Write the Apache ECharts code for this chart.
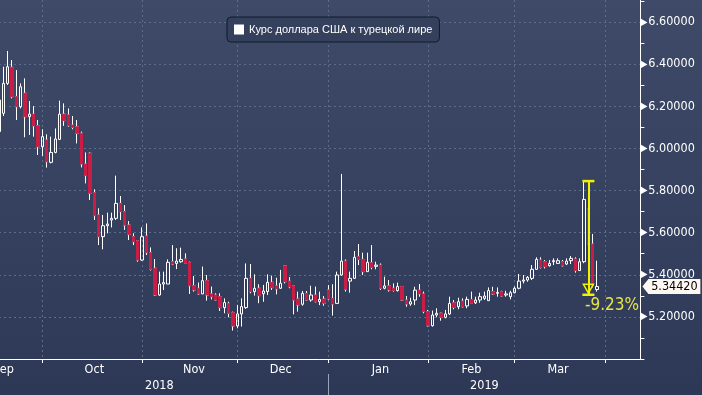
<!DOCTYPE html>
<html><head><meta charset="utf-8">
<script src="https://cdn.jsdelivr.net/npm/echarts@6/dist/echarts.min.js"></script>
<style>
html,body{margin:0;padding:0;background:#2c3855;}
#c{width:702px;height:395px;background:linear-gradient(to bottom,#3e4a67 0%,#2f3b58 88%,#2c3855 100%);}
</style>
</head><body><div id="c"></div>
<script>
const seriesName = 'Курс доллара США к турецкой лире';
const firstDate = '2018-09-14';
const lastDate = '2019-04-10';

const openVals = [
6.080,6.167,6.309,6.385,6.246,6.198,6.262,6.151,6.163,6.108,
6.008,6.040,5.934,5.981,6.043,6.163,6.159,6.111,6.103,6.072,
5.926,5.977,5.790,5.684,5.581,5.633,5.660,5.668,5.739,5.700,
5.636,5.581,5.562,5.470,5.584,5.505,5.431,5.304,5.356,5.356,
5.462,5.454,5.462,5.475,5.459,5.348,5.336,5.309,5.372,5.309,
5.304,5.296,5.244,5.264,5.220,5.157,5.214,5.244,5.383,5.320,
5.336,5.310,5.320,5.364,5.347,5.336,5.442,5.370,5.348,5.285,
5.260,5.312,5.280,5.304,5.272,5.285,5.328,5.288,5.264,5.399,
5.465,5.370,5.383,5.486,5.473,5.415,5.457,5.440,5.446,5.336,
5.347,5.336,5.325,5.344,5.280,5.261,5.280,5.327,5.309,5.225,
5.158,5.209,5.217,5.198,5.214,5.267,5.248,5.275,5.252,5.283,
5.267,5.280,5.288,5.277,5.320,5.312,5.320,5.304,5.296,5.315,
5.336,5.370,5.375,5.383,5.426,5.470,5.462,5.443,5.462,5.454,
5.462,5.451,5.467,5.475,5.420,5.462,5.715,5.546,5.330];
const closeVals = [
6.230,6.309,6.388,6.246,6.198,6.293,6.151,6.163,6.107,6.008,
6.056,5.937,5.981,6.045,6.163,6.132,6.108,6.100,6.072,5.926,
5.871,5.787,5.681,5.581,5.633,5.641,5.668,5.739,5.700,5.636,
5.592,5.557,5.470,5.581,5.505,5.426,5.304,5.356,5.363,5.459,
5.451,5.465,5.473,5.454,5.348,5.328,5.309,5.372,5.304,5.296,
5.280,5.244,5.268,5.217,5.157,5.214,5.249,5.383,5.320,5.336,
5.301,5.323,5.364,5.339,5.333,5.360,5.367,5.343,5.280,5.257,
5.312,5.280,5.304,5.272,5.283,5.265,5.285,5.261,5.399,5.465,
5.331,5.383,5.483,5.473,5.415,5.459,5.435,5.446,5.336,5.347,
5.328,5.325,5.344,5.280,5.261,5.272,5.327,5.309,5.225,5.158,
5.209,5.217,5.198,5.214,5.264,5.245,5.272,5.248,5.283,5.264,
5.280,5.296,5.299,5.325,5.309,5.316,5.299,5.309,5.315,5.336,
5.370,5.375,5.388,5.426,5.473,5.435,5.439,5.454,5.467,5.467,
5.443,5.465,5.478,5.420,5.462,5.758,5.546,5.351,5.3442];
const lowVals = [
6.050,6.154,6.301,6.238,6.135,6.190,6.053,6.064,6.056,5.969,
5.964,5.909,5.929,5.977,6.040,6.107,6.103,6.091,6.024,5.910,
5.834,5.755,5.660,5.541,5.521,5.597,5.625,5.660,5.660,5.613,
5.565,5.541,5.462,5.467,5.494,5.420,5.300,5.300,5.328,5.356,
5.446,5.427,5.457,5.451,5.309,5.320,5.304,5.309,5.277,5.283,
5.277,5.228,5.217,5.198,5.135,5.146,5.154,5.238,5.312,5.301,
5.265,5.272,5.304,5.328,5.307,5.333,5.359,5.336,5.212,5.225,
5.253,5.276,5.272,5.269,5.256,5.253,5.280,5.206,5.264,5.396,
5.320,5.315,5.380,5.446,5.399,5.415,5.426,5.426,5.328,5.331,
5.320,5.320,5.320,5.277,5.248,5.253,5.256,5.296,5.217,5.154,
5.154,5.198,5.182,5.193,5.209,5.236,5.236,5.245,5.241,5.261,
5.261,5.267,5.280,5.277,5.304,5.296,5.296,5.296,5.283,5.312,
5.331,5.359,5.367,5.375,5.423,5.430,5.430,5.439,5.446,5.451,
5.439,5.446,5.451,5.410,5.418,5.455,5.540,5.340,5.320];
const highVals = [
6.250,6.388,6.463,6.420,6.372,6.309,6.333,6.225,6.201,6.135,
6.091,6.067,6.056,6.095,6.227,6.214,6.190,6.154,6.135,6.080,
5.981,5.981,5.806,5.716,5.684,5.695,5.695,5.871,5.774,5.731,
5.655,5.597,5.565,5.625,5.644,5.530,5.475,5.415,5.415,5.473,
5.541,5.526,5.529,5.502,5.462,5.394,5.363,5.439,5.399,5.344,
5.312,5.312,5.288,5.272,5.225,5.257,5.288,5.454,5.451,5.402,
5.355,5.352,5.402,5.396,5.386,5.423,5.442,5.389,5.351,5.320,
5.323,5.323,5.348,5.344,5.320,5.299,5.351,5.355,5.415,5.879,
5.473,5.415,5.513,5.546,5.505,5.505,5.541,5.462,5.454,5.391,
5.375,5.359,5.363,5.347,5.299,5.291,5.343,5.356,5.320,5.233,
5.230,5.241,5.220,5.233,5.296,5.280,5.291,5.288,5.296,5.320,
5.296,5.315,5.320,5.340,5.343,5.340,5.324,5.324,5.324,5.344,
5.404,5.399,5.394,5.446,5.483,5.483,5.470,5.470,5.478,5.478,
5.470,5.478,5.489,5.483,5.478,5.842,5.780,5.594,5.467];

// axis labels
const monthEndDates = ['2018-09-28','2018-10-31','2018-11-30','2018-12-31','2019-01-31','2019-02-28','2019-03-29'];
const monthLabelDates = ['2018-09-17','2018-10-16','2018-11-16','2018-12-14','2019-01-16','2019-02-14','2019-03-14'];
const monthLabels = ['Sep','Oct','Nov','Dec','Jan','Feb','Mar'];
const yearLabelDates = ['2018-11-06','2019-02-19'];
const yearLabels = ['2018','2019'];
const yearDividerDates = ['2018-12-31'];
const yTickLabels = [5.2,5.4,5.6,5.8,6.0,6.2,6.4,6.6];

// measurement annotation
const measureDate = '2019-03-25';
const measureTop = 5.845;
const measureBottom = 5.305;
const measureLabel = '-9.23%';

function weekdays(a, b) {
  const out = [];
  const d = new Date(a + 'T00:00:00Z');
  const e = new Date(b + 'T00:00:00Z');
  while (d <= e) {
    const w = d.getUTCDay();
    if (w !== 0 && w !== 6) out.push(d.toISOString().slice(0, 10));
    d.setUTCDate(d.getUTCDate() + 1);
  }
  return out;
}
const categories = weekdays(firstDate, lastDate);

const candleData = openVals.map((o, i) => [o, closeVals[i], lowVals[i], highVals[i]]);
const downBodies = openVals.map((o, i) => closeVals[i] < o ? [o, closeVals[i], closeVals[i], o] : '-');
const lastClose = closeVals[closeVals.length - 1];
const lastCat = categories[categories.length - 1];

const FONT = "'DejaVu Sans Condensed','DejaVu Sans',sans-serif";
const GRID_COLOR = '#5a6d8c';
const YELLOW = '#f2f200';

const chart = echarts.init(document.getElementById('c'), null, {renderer: 'canvas'});
chart.setOption({
  backgroundColor: 'transparent',
  animation: false,
  textStyle: {fontFamily: FONT},
  legend: {
    data: [{name: seriesName, icon: 'rect', itemStyle: {color: '#ffffff', borderWidth: 0}}],
    left: 227, top: 17,
    padding: [7, 7],
    itemWidth: 10, itemHeight: 10,
    backgroundColor: 'rgba(52,64,92,0.95)',
    borderColor: '#111a2c', borderWidth: 1, borderRadius: 4,
    textStyle: {color: '#ffffff', fontSize: 11, fontFamily: "'Liberation Sans',Arial,sans-serif"},
    selectedMode: false
  },
  grid: {left: -1, right: 61.6, top: -20, bottom: 36, containLabel: false, outerBoundsMode: 'none'},
  xAxis: [{
    type: 'category', data: categories, boundaryGap: false,
    axisLine: {show: true, lineStyle: {color: '#ffffff', width: 1}},
    axisTick: {show: true, length: 4, interval: (i, v) => monthEndDates.includes(v), lineStyle: {color: '#ffffff'}},
    axisLabel: {
      interval: (i, v) => monthLabelDates.includes(v),
      formatter: v => monthLabels[monthLabelDates.indexOf(v)] || '',
      color: '#ffffff', fontSize: 12.5, margin: 4, fontFamily: FONT
    },
    splitLine: {show: true, interval: (i, v) => monthEndDates.includes(v), lineStyle: {color: GRID_COLOR, type: [2, 3], width: 1}}
  }, {
    type: 'category', data: categories, boundaryGap: false, position: 'bottom', offset: 36,
    axisLine: {show: false},
    axisTick: {show: true, inside: true, length: 21, interval: (i, v) => yearDividerDates.includes(v), lineStyle: {color: '#9aa4b8'}},
    axisLabel: {
      inside: true,
      interval: (i, v) => yearLabelDates.includes(v),
      formatter: v => yearLabels[yearLabelDates.indexOf(v)] || '',
      color: '#ffffff', fontSize: 12.5, margin: 3, fontFamily: FONT
    },
    splitLine: {show: false}
  }],
  yAxis: {
    type: 'value', position: 'right', min: 5.0, max: 6.8, interval: 0.2,
    axisLine: {show: true, lineStyle: {color: '#ffffff', width: 1}},
    axisTick: {show: true, length: 4, lineStyle: {color: '#ffffff'}},
    minorTick: {show: true, splitNumber: 2, length: 4, lineStyle: {color: '#ffffff'}},
    axisLabel: {
      margin: 0, color: '#ffffff', fontSize: 12.5, fontFamily: FONT,
      formatter: v => yTickLabels.some(t => Math.abs(t - v) < 1e-6) ? '{t|▶}' + v.toFixed(5) : '',
      rich: {t: {fontSize: 10, color: '#ffffff', padding: [0, 1, 0, 0]}}
    },
    splitLine: {show: true, lineStyle: {color: GRID_COLOR, type: [2, 3], width: 1}}
  },
  series: [{
    name: seriesName, type: 'candlestick', data: candleData, barWidth: 3,
    itemStyle: {color: 'rgba(0,0,0,0)', color0: 'rgba(0,0,0,0)', borderColor: '#ffffff', borderColor0: '#ffffff', borderWidth: 1},
    markLine: {
      silent: true, animation: false, symbol: ['none', 'none'],
      label: {show: false},
      lineStyle: {color: YELLOW, width: 2, type: 'solid'},
      data: [[{coord: [measureDate, measureTop]}, {coord: [measureDate, measureBottom]}]]
    },
    markPoint: {
      silent: true, animation: false,
      data: [
        {coord: [measureDate, measureTop], symbol: 'rect', symbolSize: [12, 2.5], itemStyle: {color: YELLOW}, label: {show: false}},
        {coord: [measureDate, measureBottom], symbol: 'rect', symbolSize: [12, 2.5], itemStyle: {color: YELLOW}, label: {show: false}},
        {coord: [measureDate, measureBottom], symbol: 'path://M0,0 L10,0 L5,9 Z', symbolSize: [10, 9], symbolOffset: [0, -6],
          itemStyle: {color: 'rgba(0,0,0,0)', borderColor: YELLOW, borderWidth: 1.5}, label: {show: false}},
        {coord: [measureDate, measureBottom], symbol: 'rect', symbolSize: [1, 1], itemStyle: {color: 'rgba(0,0,0,0)'},
          label: {show: true, formatter: measureLabel, position: [-3, 3], align: 'left', verticalAlign: 'top',
            color: '#e4e44a', fontSize: 17, fontFamily: FONT}},
        {coord: [lastCat, lastClose], symbol: 'path://M0,7 L6,0 L58,0 L58,14 L6,14 Z', symbolSize: [58, 15], symbolOffset: [31, 0],
          itemStyle: {color: '#fdf8f2'},
          label: {show: true, formatter: lastClose.toFixed(5), position: 'inside', offset: [3, 0], color: '#000000', fontSize: 12.5, fontFamily: FONT}}
      ]
    }
  }, {
    name: 'down', type: 'candlestick', data: downBodies, barWidth: 3,
    itemStyle: {color: '#c91d46', color0: '#c91d46', borderColor: '#c91d46', borderColor0: '#c91d46', borderWidth: 1}
  }]
});
</script>
</body></html>
